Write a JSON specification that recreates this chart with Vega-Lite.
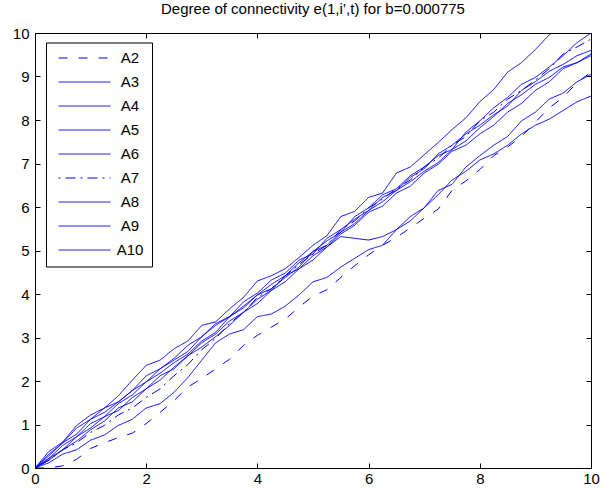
{
"$schema": "https://vega.github.io/schema/vega-lite/v6.json",
"width": 556, "height": 435,
"autosize": {"type": "none"},
"padding": {"left": 35, "top": 33, "right": 12, "bottom": 33},
"background": "white",
"title": {"text": "Degree of connectivity e(1,i’,t) for b=0.000775", "fontSize": 15, "fontWeight": "normal", "font": "Liberation Sans", "anchor": "middle", "frame": "group", "offset": -3, "baseline": "alphabetic", "color": "black"},
"config": {
  "font": "Liberation Sans",
  "view": {"stroke": "black", "strokeWidth": 1},
  "axis": {"domainColor": "black", "tickColor": "black", "labelColor": "black", "labelFontSize": 15, "labelFont": "Liberation Sans", "grid": false, "tickSize": -5, "title": null, "labelFlush": false, "minExtent": 0},
  "legend": {"title": null, "orient": "none", "legendX": 11, "legendY": 9.5, "strokeColor": "black", "fillColor": "white", "padding": 8, "symbolType": "M-5.2,0H5.2", "symbolSize": 100, "symbolStrokeWidth": 1, "symbolFillColor": "transparent", "symbolOffset": 23, "labelFontSize": 15, "labelFont": "Liberation Sans", "labelColor": "black", "labelAlign": "center", "labelOffset": 38, "rowPadding": 8, "cornerRadius": 0}
},
"datasets": {"d": [
{"s":"A2","x":0,"y":0},{"s":"A2","x":0.25,"y":0},{"s":"A2","x":0.5,"y":0.05},{"s":"A2","x":0.75,"y":0.2},{"s":"A2","x":1,"y":0.45},{"s":"A2","x":1.25,"y":0.58},{"s":"A2","x":1.5,"y":0.7},{"s":"A2","x":1.75,"y":0.8},{"s":"A2","x":2,"y":1.02},{"s":"A2","x":2.25,"y":1.28},{"s":"A2","x":2.5,"y":1.55},{"s":"A2","x":2.75,"y":1.86},{"s":"A2","x":3,"y":2.06},{"s":"A2","x":3.25,"y":2.28},{"s":"A2","x":3.5,"y":2.5},{"s":"A2","x":3.75,"y":2.82},{"s":"A2","x":4,"y":3.05},{"s":"A2","x":4.25,"y":3.24},{"s":"A2","x":4.5,"y":3.42},{"s":"A2","x":4.75,"y":3.7},{"s":"A2","x":5,"y":3.95},{"s":"A2","x":5.25,"y":4.1},{"s":"A2","x":5.5,"y":4.38},{"s":"A2","x":5.75,"y":4.65},{"s":"A2","x":6,"y":4.9},{"s":"A2","x":6.25,"y":5.12},{"s":"A2","x":6.5,"y":5.3},{"s":"A2","x":6.75,"y":5.52},{"s":"A2","x":7,"y":5.74},{"s":"A2","x":7.25,"y":5.95},{"s":"A2","x":7.5,"y":6.38},{"s":"A2","x":7.75,"y":6.6},{"s":"A2","x":8,"y":6.86},{"s":"A2","x":8.25,"y":7.18},{"s":"A2","x":8.5,"y":7.38},{"s":"A2","x":8.75,"y":7.62},{"s":"A2","x":9,"y":7.95},{"s":"A2","x":9.25,"y":8.28},{"s":"A2","x":9.5,"y":8.52},{"s":"A2","x":9.75,"y":8.86},{"s":"A2","x":10,"y":9.1},
{"s":"A3","x":0,"y":0},{"s":"A3","x":0.25,"y":0.38},{"s":"A3","x":0.5,"y":0.6},{"s":"A3","x":0.75,"y":0.98},{"s":"A3","x":1,"y":1.22},{"s":"A3","x":1.25,"y":1.38},{"s":"A3","x":1.5,"y":1.66},{"s":"A3","x":1.75,"y":2.02},{"s":"A3","x":2,"y":2.36},{"s":"A3","x":2.25,"y":2.48},{"s":"A3","x":2.5,"y":2.74},{"s":"A3","x":2.75,"y":2.92},{"s":"A3","x":3,"y":3.28},{"s":"A3","x":3.25,"y":3.36},{"s":"A3","x":3.5,"y":3.66},{"s":"A3","x":3.75,"y":3.92},{"s":"A3","x":4,"y":4.3},{"s":"A3","x":4.25,"y":4.42},{"s":"A3","x":4.5,"y":4.58},{"s":"A3","x":4.75,"y":4.84},{"s":"A3","x":5,"y":5.12},{"s":"A3","x":5.25,"y":5.34},{"s":"A3","x":5.5,"y":5.78},{"s":"A3","x":5.75,"y":5.9},{"s":"A3","x":6,"y":6.22},{"s":"A3","x":6.25,"y":6.32},{"s":"A3","x":6.5,"y":6.78},{"s":"A3","x":6.75,"y":6.92},{"s":"A3","x":7,"y":7.2},{"s":"A3","x":7.25,"y":7.48},{"s":"A3","x":7.5,"y":7.78},{"s":"A3","x":7.75,"y":8.05},{"s":"A3","x":8,"y":8.42},{"s":"A3","x":8.25,"y":8.7},{"s":"A3","x":8.5,"y":9.1},{"s":"A3","x":8.75,"y":9.32},{"s":"A3","x":9,"y":9.62},{"s":"A3","x":9.25,"y":9.96},{"s":"A3","x":9.3,"y":10},
{"s":"A4","x":0,"y":0},{"s":"A4","x":0.25,"y":0.28},{"s":"A4","x":0.5,"y":0.58},{"s":"A4","x":0.75,"y":0.78},{"s":"A4","x":1,"y":1.12},{"s":"A4","x":1.25,"y":1.28},{"s":"A4","x":1.5,"y":1.52},{"s":"A4","x":1.75,"y":1.78},{"s":"A4","x":2,"y":2.12},{"s":"A4","x":2.25,"y":2.28},{"s":"A4","x":2.5,"y":2.48},{"s":"A4","x":2.75,"y":2.68},{"s":"A4","x":3,"y":3.02},{"s":"A4","x":3.25,"y":3.32},{"s":"A4","x":3.5,"y":3.48},{"s":"A4","x":3.75,"y":3.72},{"s":"A4","x":4,"y":3.98},{"s":"A4","x":4.25,"y":4.22},{"s":"A4","x":4.5,"y":4.42},{"s":"A4","x":4.75,"y":4.72},{"s":"A4","x":5,"y":4.98},{"s":"A4","x":5.25,"y":5.22},{"s":"A4","x":5.5,"y":5.42},{"s":"A4","x":5.75,"y":5.78},{"s":"A4","x":6,"y":5.98},{"s":"A4","x":6.25,"y":6.28},{"s":"A4","x":6.5,"y":6.42},{"s":"A4","x":6.75,"y":6.72},{"s":"A4","x":7,"y":6.92},{"s":"A4","x":7.25,"y":7.18},{"s":"A4","x":7.5,"y":7.32},{"s":"A4","x":7.75,"y":7.72},{"s":"A4","x":8,"y":7.98},{"s":"A4","x":8.25,"y":8.28},{"s":"A4","x":8.5,"y":8.52},{"s":"A4","x":8.75,"y":8.82},{"s":"A4","x":9,"y":8.98},{"s":"A4","x":9.25,"y":9.22},{"s":"A4","x":9.5,"y":9.48},{"s":"A4","x":9.75,"y":9.78},{"s":"A4","x":10,"y":10},
{"s":"A5","x":0,"y":0},{"s":"A5","x":0.25,"y":0.22},{"s":"A5","x":0.5,"y":0.52},{"s":"A5","x":0.75,"y":0.72},{"s":"A5","x":1,"y":1.02},{"s":"A5","x":1.25,"y":1.18},{"s":"A5","x":1.5,"y":1.48},{"s":"A5","x":1.75,"y":1.68},{"s":"A5","x":2,"y":1.98},{"s":"A5","x":2.25,"y":2.18},{"s":"A5","x":2.5,"y":2.42},{"s":"A5","x":2.75,"y":2.62},{"s":"A5","x":3,"y":2.92},{"s":"A5","x":3.25,"y":3.12},{"s":"A5","x":3.5,"y":3.48},{"s":"A5","x":3.75,"y":3.68},{"s":"A5","x":4,"y":3.98},{"s":"A5","x":4.25,"y":4.12},{"s":"A5","x":4.5,"y":4.38},{"s":"A5","x":4.75,"y":4.62},{"s":"A5","x":5,"y":4.98},{"s":"A5","x":5.25,"y":5.12},{"s":"A5","x":5.5,"y":5.42},{"s":"A5","x":5.75,"y":5.62},{"s":"A5","x":6,"y":5.92},{"s":"A5","x":6.25,"y":6.12},{"s":"A5","x":6.5,"y":6.38},{"s":"A5","x":6.75,"y":6.58},{"s":"A5","x":7,"y":6.82},{"s":"A5","x":7.25,"y":7.02},{"s":"A5","x":7.5,"y":7.32},{"s":"A5","x":7.75,"y":7.52},{"s":"A5","x":8,"y":7.82},{"s":"A5","x":8.25,"y":8.08},{"s":"A5","x":8.5,"y":8.38},{"s":"A5","x":8.75,"y":8.58},{"s":"A5","x":9,"y":8.82},{"s":"A5","x":9.25,"y":8.98},{"s":"A5","x":9.5,"y":9.22},{"s":"A5","x":9.75,"y":9.32},{"s":"A5","x":10,"y":9.52},
{"s":"A6","x":0,"y":0},{"s":"A6","x":0.25,"y":0.12},{"s":"A6","x":0.5,"y":0.32},{"s":"A6","x":0.75,"y":0.42},{"s":"A6","x":1,"y":0.64},{"s":"A6","x":1.25,"y":0.76},{"s":"A6","x":1.5,"y":0.98},{"s":"A6","x":1.75,"y":1.12},{"s":"A6","x":2,"y":1.38},{"s":"A6","x":2.25,"y":1.48},{"s":"A6","x":2.5,"y":1.74},{"s":"A6","x":2.75,"y":2.08},{"s":"A6","x":3,"y":2.48},{"s":"A6","x":3.25,"y":2.88},{"s":"A6","x":3.5,"y":3.08},{"s":"A6","x":3.75,"y":3.18},{"s":"A6","x":4,"y":3.48},{"s":"A6","x":4.25,"y":3.54},{"s":"A6","x":4.5,"y":3.72},{"s":"A6","x":4.75,"y":3.98},{"s":"A6","x":5,"y":4.28},{"s":"A6","x":5.25,"y":4.38},{"s":"A6","x":5.5,"y":4.62},{"s":"A6","x":5.75,"y":4.82},{"s":"A6","x":6,"y":5.02},{"s":"A6","x":6.25,"y":5.12},{"s":"A6","x":6.5,"y":5.48},{"s":"A6","x":6.75,"y":5.68},{"s":"A6","x":7,"y":5.98},{"s":"A6","x":7.25,"y":6.28},{"s":"A6","x":7.5,"y":6.62},{"s":"A6","x":7.75,"y":6.82},{"s":"A6","x":8,"y":7.08},{"s":"A6","x":8.25,"y":7.22},{"s":"A6","x":8.5,"y":7.42},{"s":"A6","x":8.75,"y":7.68},{"s":"A6","x":9,"y":7.88},{"s":"A6","x":9.25,"y":8.02},{"s":"A6","x":9.5,"y":8.22},{"s":"A6","x":9.75,"y":8.42},{"s":"A6","x":10,"y":8.55},
{"s":"A7","x":0,"y":0},{"s":"A7","x":0.25,"y":0.18},{"s":"A7","x":0.5,"y":0.42},{"s":"A7","x":0.75,"y":0.58},{"s":"A7","x":1,"y":0.82},{"s":"A7","x":1.25,"y":0.98},{"s":"A7","x":1.5,"y":1.22},{"s":"A7","x":1.75,"y":1.38},{"s":"A7","x":2,"y":1.62},{"s":"A7","x":2.25,"y":1.82},{"s":"A7","x":2.5,"y":2.12},{"s":"A7","x":2.75,"y":2.38},{"s":"A7","x":3,"y":2.72},{"s":"A7","x":3.25,"y":2.98},{"s":"A7","x":3.5,"y":3.32},{"s":"A7","x":3.75,"y":3.58},{"s":"A7","x":4,"y":3.92},{"s":"A7","x":4.25,"y":4.12},{"s":"A7","x":4.5,"y":4.42},{"s":"A7","x":4.75,"y":4.68},{"s":"A7","x":5,"y":4.92},{"s":"A7","x":5.25,"y":5.12},{"s":"A7","x":5.5,"y":5.48},{"s":"A7","x":5.75,"y":5.68},{"s":"A7","x":6,"y":5.98},{"s":"A7","x":6.25,"y":6.18},{"s":"A7","x":6.5,"y":6.42},{"s":"A7","x":6.75,"y":6.62},{"s":"A7","x":7,"y":6.92},{"s":"A7","x":7.25,"y":7.12},{"s":"A7","x":7.5,"y":7.42},{"s":"A7","x":7.75,"y":7.62},{"s":"A7","x":8,"y":7.98},{"s":"A7","x":8.25,"y":8.18},{"s":"A7","x":8.5,"y":8.48},{"s":"A7","x":8.75,"y":8.68},{"s":"A7","x":9,"y":8.92},{"s":"A7","x":9.25,"y":9.18},{"s":"A7","x":9.5,"y":9.52},{"s":"A7","x":9.75,"y":9.68},{"s":"A7","x":10,"y":9.86},
{"s":"A8","x":0,"y":0},{"s":"A8","x":0.25,"y":0.22},{"s":"A8","x":0.5,"y":0.42},{"s":"A8","x":0.75,"y":0.72},{"s":"A8","x":1,"y":0.92},{"s":"A8","x":1.25,"y":1.18},{"s":"A8","x":1.5,"y":1.32},{"s":"A8","x":1.75,"y":1.62},{"s":"A8","x":2,"y":1.82},{"s":"A8","x":2.25,"y":2.12},{"s":"A8","x":2.5,"y":2.28},{"s":"A8","x":2.75,"y":2.58},{"s":"A8","x":3,"y":2.78},{"s":"A8","x":3.25,"y":3.02},{"s":"A8","x":3.5,"y":3.28},{"s":"A8","x":3.75,"y":3.58},{"s":"A8","x":4,"y":3.78},{"s":"A8","x":4.25,"y":4.08},{"s":"A8","x":4.5,"y":4.28},{"s":"A8","x":4.75,"y":4.58},{"s":"A8","x":5,"y":4.78},{"s":"A8","x":5.25,"y":5.08},{"s":"A8","x":5.5,"y":5.32},{"s":"A8","x":5.75,"y":5.28},{"s":"A8","x":6,"y":5.24},{"s":"A8","x":6.25,"y":5.32},{"s":"A8","x":6.5,"y":5.48},{"s":"A8","x":6.75,"y":5.78},{"s":"A8","x":7,"y":5.98},{"s":"A8","x":7.25,"y":6.38},{"s":"A8","x":7.5,"y":6.52},{"s":"A8","x":7.75,"y":6.92},{"s":"A8","x":8,"y":7.18},{"s":"A8","x":8.25,"y":7.42},{"s":"A8","x":8.5,"y":7.62},{"s":"A8","x":8.75,"y":7.98},{"s":"A8","x":9,"y":8.18},{"s":"A8","x":9.25,"y":8.48},{"s":"A8","x":9.5,"y":8.62},{"s":"A8","x":9.75,"y":8.88},{"s":"A8","x":10,"y":9.05},
{"s":"A9","x":0,"y":0},{"s":"A9","x":0.25,"y":0.18},{"s":"A9","x":0.5,"y":0.42},{"s":"A9","x":0.75,"y":0.62},{"s":"A9","x":1,"y":0.88},{"s":"A9","x":1.25,"y":1.08},{"s":"A9","x":1.5,"y":1.38},{"s":"A9","x":1.75,"y":1.52},{"s":"A9","x":2,"y":1.82},{"s":"A9","x":2.25,"y":2.02},{"s":"A9","x":2.5,"y":2.32},{"s":"A9","x":2.75,"y":2.58},{"s":"A9","x":3,"y":2.88},{"s":"A9","x":3.25,"y":3.08},{"s":"A9","x":3.5,"y":3.38},{"s":"A9","x":3.75,"y":3.58},{"s":"A9","x":4,"y":3.88},{"s":"A9","x":4.25,"y":4.08},{"s":"A9","x":4.5,"y":4.42},{"s":"A9","x":4.75,"y":4.58},{"s":"A9","x":5,"y":4.88},{"s":"A9","x":5.25,"y":5.08},{"s":"A9","x":5.5,"y":5.38},{"s":"A9","x":5.75,"y":5.58},{"s":"A9","x":6,"y":5.88},{"s":"A9","x":6.25,"y":6.02},{"s":"A9","x":6.5,"y":6.32},{"s":"A9","x":6.75,"y":6.48},{"s":"A9","x":7,"y":6.78},{"s":"A9","x":7.25,"y":6.98},{"s":"A9","x":7.5,"y":7.28},{"s":"A9","x":7.75,"y":7.42},{"s":"A9","x":8,"y":7.68},{"s":"A9","x":8.25,"y":7.88},{"s":"A9","x":8.5,"y":8.18},{"s":"A9","x":8.75,"y":8.38},{"s":"A9","x":9,"y":8.68},{"s":"A9","x":9.25,"y":8.88},{"s":"A9","x":9.5,"y":9.18},{"s":"A9","x":9.75,"y":9.32},{"s":"A9","x":10,"y":9.48},
{"s":"A10","x":0,"y":0},{"s":"A10","x":0.25,"y":0.32},{"s":"A10","x":0.5,"y":0.58},{"s":"A10","x":0.75,"y":0.92},{"s":"A10","x":1,"y":1.12},{"s":"A10","x":1.25,"y":1.38},{"s":"A10","x":1.5,"y":1.52},{"s":"A10","x":1.75,"y":1.78},{"s":"A10","x":2,"y":1.98},{"s":"A10","x":2.25,"y":2.28},{"s":"A10","x":2.5,"y":2.52},{"s":"A10","x":2.75,"y":2.82},{"s":"A10","x":3,"y":3.02},{"s":"A10","x":3.25,"y":3.28},{"s":"A10","x":3.5,"y":3.48},{"s":"A10","x":3.75,"y":3.82},{"s":"A10","x":4,"y":4.02},{"s":"A10","x":4.25,"y":4.32},{"s":"A10","x":4.5,"y":4.48},{"s":"A10","x":4.75,"y":4.78},{"s":"A10","x":5,"y":4.92},{"s":"A10","x":5.25,"y":5.28},{"s":"A10","x":5.5,"y":5.48},{"s":"A10","x":5.75,"y":5.72},{"s":"A10","x":6,"y":5.92},{"s":"A10","x":6.25,"y":6.22},{"s":"A10","x":6.5,"y":6.38},{"s":"A10","x":6.75,"y":6.68},{"s":"A10","x":7,"y":6.88},{"s":"A10","x":7.25,"y":7.22},{"s":"A10","x":7.5,"y":7.42},{"s":"A10","x":7.75,"y":7.68},{"s":"A10","x":8,"y":7.88},{"s":"A10","x":8.25,"y":8.12},{"s":"A10","x":8.5,"y":8.32},{"s":"A10","x":8.75,"y":8.68},{"s":"A10","x":9,"y":8.88},{"s":"A10","x":9.25,"y":9.12},{"s":"A10","x":9.5,"y":9.28},{"s":"A10","x":9.75,"y":9.48},{"s":"A10","x":10,"y":9.6}
]},
"data": {"name": "d"},
"layer": [
  {"mark": {"type": "line", "strokeWidth": 1, "clip": true},
   "encoding": {
     "x": {"field": "x", "type": "quantitative", "scale": {"domain": [0, 10], "nice": false}, "axis": {"values": [0, 2, 4, 6, 8, 10], "title": null, "labelPadding": 8}},
     "y": {"field": "y", "type": "quantitative", "scale": {"domain": [0, 10], "nice": false}, "axis": {"values": [0, 1, 2, 3, 4, 5, 6, 7, 8, 9, 10], "title": null, "labelPadding": 11}},
     "color": {"field": "s", "type": "nominal",
       "scale": {"domain": ["A2","A3","A4","A5","A6","A7","A8","A9","A10"], "range": ["#0000ff","#0000ff","#0000ff","#0000ff","#0000ff","#0000ff","#0000ff","#0000ff","#0000ff"]},
       "legend": {"title": null}},
     "strokeDash": {"field": "s", "type": "nominal",
       "scale": {"domain": ["A2","A3","A4","A5","A6","A7","A8","A9","A10"], "range": [[9,11],[1,0],[1,0],[1,0],[1,0],[2,5,10,5],[1,0],[1,0],[1,0]]},
       "legend": {"title": null}}
   }},
  {"mark": {"type": "point", "opacity": 0, "clip": true},
   "encoding": {
     "x": {"field": "x", "type": "quantitative", "axis": {"orient": "top", "labels": false, "domain": false, "values": [0, 2, 4, 6, 8, 10], "title": null}},
     "y": {"field": "y", "type": "quantitative", "axis": {"orient": "right", "labels": false, "domain": false, "values": [0, 1, 2, 3, 4, 5, 6, 7, 8, 9, 10], "title": null}}
   }}
],
"resolve": {"axis": {"x": "independent", "y": "independent"}}
}
